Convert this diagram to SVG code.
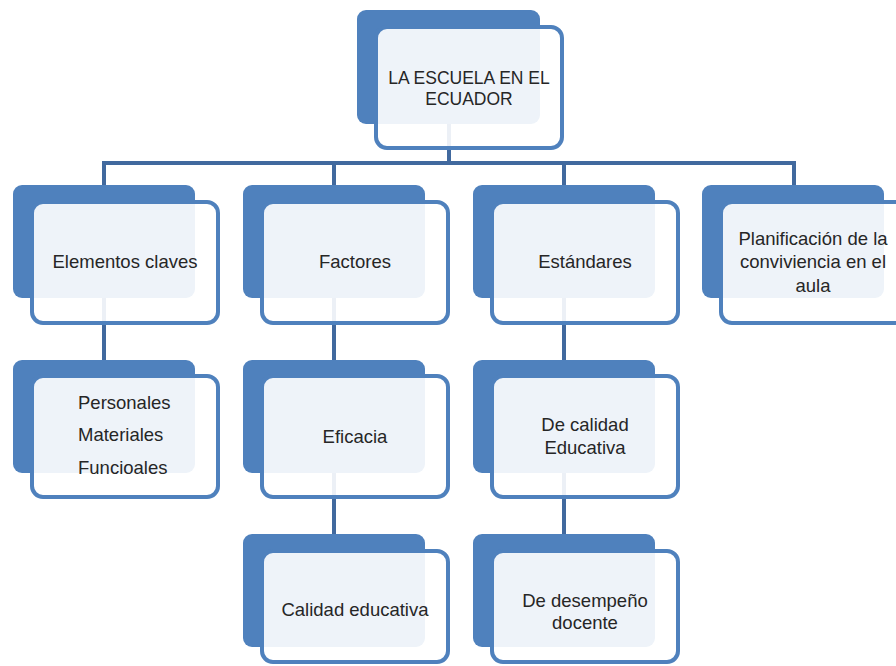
<svg xmlns="http://www.w3.org/2000/svg" width="896" height="666" viewBox="0 0 896 666">
<style>
.back{fill:#4F81BD}
.front{fill:#FFFFFF;fill-opacity:0.9;stroke:#4F81BD;stroke-width:4}
.conn{stroke:#41699E;stroke-width:4;fill:none}
text{font-family:"Liberation Sans",Arial,sans-serif;font-size:18.5px;fill:#262626;text-anchor:middle}
</style>
<rect width="896" height="666" fill="#FFFFFF"/>
<g id="connectors">
<path class="conn" d="M449 120 V163 M104 163 H794 M104 161 V185 M334 161 V185 M564 161 V185 M794 161 V185"/>
<path class="conn" d="M104 296 V361 M334 296 V361 M564 296 V361"/>
<path class="conn" d="M334 471 V535 M564 471 V535"/>
</g>
<g id="n-root">
<rect class="back" x="357" y="10" width="183" height="114" rx="9"/>
<rect class="front" x="376" y="27" width="186" height="121" rx="11"/>
<text x="469" y="83.5" style="font-size:17.5px">LA ESCUELA EN EL</text>
<text x="469" y="105" style="font-size:17.5px">ECUADOR</text>
</g>
<g id="n-elementos">
<rect class="back" x="13" y="185" width="182" height="113" rx="9"/>
<rect class="front" x="32" y="202" width="186" height="121" rx="11"/>
<text x="125" y="268">Elementos claves</text>
</g>
<g id="n-factores">
<rect class="back" x="243" y="185" width="182" height="113" rx="9"/>
<rect class="front" x="262" y="202" width="186" height="121" rx="11"/>
<text x="355" y="268">Factores</text>
</g>
<g id="n-estandares">
<rect class="back" x="473" y="185" width="182" height="113" rx="9"/>
<rect class="front" x="492" y="202" width="186" height="121" rx="11"/>
<text x="585" y="268">Estándares</text>
</g>
<g id="n-planificacion">
<rect class="back" x="702" y="185" width="182" height="113" rx="9"/>
<rect class="front" x="721" y="202" width="186" height="121" rx="11"/>
<text x="813" y="244.5">Planificación de la</text>
<text x="813" y="268">conviviencia en el</text>
<text x="813" y="291.5">aula</text>
</g>
<g id="n-personales">
<rect class="back" x="13" y="360" width="182" height="113" rx="9"/>
<rect class="front" x="32" y="376" width="186" height="121" rx="11"/>
<text x="78" y="408.5" style="text-anchor:start">Personales</text>
<text x="78" y="440.5" style="text-anchor:start">Materiales</text>
<text x="78" y="473.5" style="text-anchor:start">Funcioales</text>
</g>
<g id="n-eficacia">
<rect class="back" x="243" y="360" width="182" height="113" rx="9"/>
<rect class="front" x="262" y="376" width="186" height="121" rx="11"/>
<text x="355" y="442.5">Eficacia</text>
</g>
<g id="n-calidad">
<rect class="back" x="473" y="360" width="182" height="113" rx="9"/>
<rect class="front" x="492" y="376" width="186" height="121" rx="11"/>
<text x="585" y="430.5">De calidad</text>
<text x="585" y="453.5">Educativa</text>
</g>
<g id="n-calidad-educativa">
<rect class="back" x="243" y="534" width="182" height="113" rx="9"/>
<rect class="front" x="262" y="551" width="186" height="111" rx="11"/>
<text x="355" y="615.5">Calidad educativa</text>
</g>
<g id="n-desempeno">
<rect class="back" x="473" y="534" width="182" height="113" rx="9"/>
<rect class="front" x="492" y="551" width="186" height="111" rx="11"/>
<text x="585" y="606.5">De desempeño</text>
<text x="585" y="628.5">docente</text>
</g>
</svg>
